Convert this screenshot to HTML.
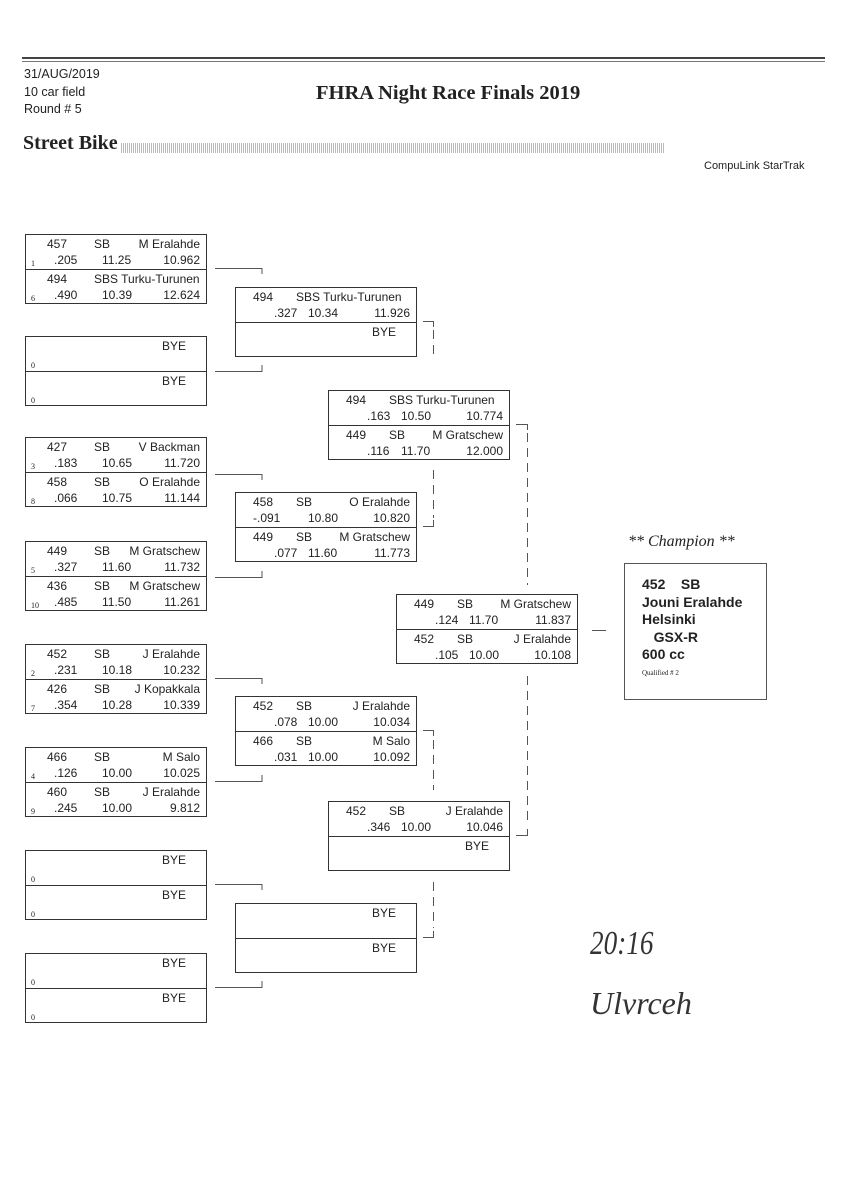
<!DOCTYPE html>
<html><head><meta charset="utf-8"><style>
body{margin:0;background:#fff}
#p{position:relative;width:848px;height:1200px;overflow:hidden;background:#fff;font-family:"Liberation Sans",sans-serif;color:#222}
.t{position:absolute;white-space:nowrap}
.b{position:absolute;width:180px;height:68px;border:1px solid #333;box-sizing:content-box}
.r{position:relative;height:34px}
.r+.r{border-top:1px solid #333;height:33px}
.r span{position:absolute;font-size:12px;line-height:14px;white-space:nowrap}
.l1{top:2px}.l2{top:18px}
.n{left:21px}.c{left:68px}.m{right:6px}.s{left:5px;font-family:"Liberation Serif",serif;font-size:8px!important;top:22px}
.rt{left:28px}.et{left:76px}.sp{right:6px}
.w .n{left:17px}.w .c{left:60px}.w .rt{left:38px}.w .et{left:72px}
.bye{right:20px;top:2px}
</style></head><body><div id="p">
<div style="position:absolute;left:22px;top:57px;width:803px;height:2px;background:#444"></div>
<div style="position:absolute;left:22px;top:61px;width:803px;height:1px;background:#777"></div>
<div class="t" style="left:24px;top:67px;font-size:12.5px">31/AUG/2019</div>
<div class="t" style="left:24px;top:85px;font-size:12.5px">10 car field</div>
<div class="t" style="left:24px;top:102px;font-size:12.5px">Round # 5</div>
<div class="t" style="left:316px;top:82px;font-size:20.5px;font-weight:bold;font-family:'Liberation Serif',serif">FHRA Night Race Finals 2019</div>
<div class="t" style="left:23px;top:132px;font-size:20px;font-weight:bold;font-family:'Liberation Serif',serif">Street Bike</div>
<div style="position:absolute;left:121px;top:143px;width:544px;height:10px;background:repeating-linear-gradient(90deg,#bbb 0 1px,#fff 1px 2px)"></div>
<div class="t" style="left:704px;top:160px;font-size:11px">CompuLink StarTrak</div>

<!-- Round 1 -->
<div class="b" style="left:25px;top:234px"><div class="r"><span class="l1 n">457</span><span class="l1 c">SB</span><span class="l1 m">M Eralahde</span><span class="s">1</span><span class="l2 rt">.205</span><span class="l2 et">11.25</span><span class="l2 sp">10.962</span></div><div class="r"><span class="l1 n">494</span><span class="l1 c">SBS Turku-Turunen</span><span class="s">6</span><span class="l2 rt">.490</span><span class="l2 et">10.39</span><span class="l2 sp">12.624</span></div></div>
<div class="b" style="left:25px;top:336px"><div class="r"><span class="bye">BYE</span><span class="s">0</span></div><div class="r"><span class="bye">BYE</span><span class="s">0</span></div></div>
<div class="b" style="left:25px;top:437px"><div class="r"><span class="l1 n">427</span><span class="l1 c">SB</span><span class="l1 m">V Backman</span><span class="s">3</span><span class="l2 rt">.183</span><span class="l2 et">10.65</span><span class="l2 sp">11.720</span></div><div class="r"><span class="l1 n">458</span><span class="l1 c">SB</span><span class="l1 m">O Eralahde</span><span class="s">8</span><span class="l2 rt">.066</span><span class="l2 et">10.75</span><span class="l2 sp">11.144</span></div></div>
<div class="b" style="left:25px;top:541px"><div class="r"><span class="l1 n">449</span><span class="l1 c">SB</span><span class="l1 m">M Gratschew</span><span class="s">5</span><span class="l2 rt">.327</span><span class="l2 et">11.60</span><span class="l2 sp">11.732</span></div><div class="r"><span class="l1 n">436</span><span class="l1 c">SB</span><span class="l1 m">M Gratschew</span><span class="s">10</span><span class="l2 rt">.485</span><span class="l2 et">11.50</span><span class="l2 sp">11.261</span></div></div>
<div class="b" style="left:25px;top:644px"><div class="r"><span class="l1 n">452</span><span class="l1 c">SB</span><span class="l1 m">J Eralahde</span><span class="s">2</span><span class="l2 rt">.231</span><span class="l2 et">10.18</span><span class="l2 sp">10.232</span></div><div class="r"><span class="l1 n">426</span><span class="l1 c">SB</span><span class="l1 m">J Kopakkala</span><span class="s">7</span><span class="l2 rt">.354</span><span class="l2 et">10.28</span><span class="l2 sp">10.339</span></div></div>
<div class="b" style="left:25px;top:747px"><div class="r"><span class="l1 n">466</span><span class="l1 c">SB</span><span class="l1 m">M Salo</span><span class="s">4</span><span class="l2 rt">.126</span><span class="l2 et">10.00</span><span class="l2 sp">10.025</span></div><div class="r"><span class="l1 n">460</span><span class="l1 c">SB</span><span class="l1 m">J Eralahde</span><span class="s">9</span><span class="l2 rt">.245</span><span class="l2 et">10.00</span><span class="l2 sp">9.812</span></div></div>
<div class="b" style="left:25px;top:850px"><div class="r"><span class="bye">BYE</span><span class="s">0</span></div><div class="r"><span class="bye">BYE</span><span class="s">0</span></div></div>
<div class="b" style="left:25px;top:953px"><div class="r"><span class="bye">BYE</span><span class="s">0</span></div><div class="r"><span class="bye">BYE</span><span class="s">0</span></div></div>

<!-- Round 2 -->
<div class="b w" style="left:235px;top:287px"><div class="r"><span class="l1 n">494</span><span class="l1 c">SBS Turku-Turunen</span><span class="l2 rt">.327</span><span class="l2 et">10.34</span><span class="l2 sp">11.926</span></div><div class="r"><span class="bye">BYE</span></div></div>
<div class="b w" style="left:235px;top:492px"><div class="r"><span class="l1 n">458</span><span class="l1 c">SB</span><span class="l1 m">O Eralahde</span><span class="l2 rt" style="left:17px">-.091</span><span class="l2 et">10.80</span><span class="l2 sp">10.820</span></div><div class="r"><span class="l1 n">449</span><span class="l1 c">SB</span><span class="l1 m">M Gratschew</span><span class="l2 rt">.077</span><span class="l2 et">11.60</span><span class="l2 sp">11.773</span></div></div>
<div class="b w" style="left:235px;top:696px"><div class="r"><span class="l1 n">452</span><span class="l1 c">SB</span><span class="l1 m">J Eralahde</span><span class="l2 rt">.078</span><span class="l2 et">10.00</span><span class="l2 sp">10.034</span></div><div class="r"><span class="l1 n">466</span><span class="l1 c">SB</span><span class="l1 m">M Salo</span><span class="l2 rt">.031</span><span class="l2 et">10.00</span><span class="l2 sp">10.092</span></div></div>
<div class="b w" style="left:235px;top:903px"><div class="r"><span class="bye">BYE</span></div><div class="r"><span class="bye">BYE</span></div></div>

<!-- Round 3 -->
<div class="b w" style="left:328px;top:390px"><div class="r"><span class="l1 n">494</span><span class="l1 c">SBS Turku-Turunen</span><span class="l2 rt">.163</span><span class="l2 et">10.50</span><span class="l2 sp">10.774</span></div><div class="r"><span class="l1 n">449</span><span class="l1 c">SB</span><span class="l1 m">M Gratschew</span><span class="l2 rt">.116</span><span class="l2 et">11.70</span><span class="l2 sp">12.000</span></div></div>
<div class="b w" style="left:328px;top:801px"><div class="r"><span class="l1 n">452</span><span class="l1 c">SB</span><span class="l1 m">J Eralahde</span><span class="l2 rt">.346</span><span class="l2 et">10.00</span><span class="l2 sp">10.046</span></div><div class="r"><span class="bye">BYE</span></div></div>

<!-- Round 4 -->
<div class="b w" style="left:396px;top:594px"><div class="r"><span class="l1 n">449</span><span class="l1 c">SB</span><span class="l1 m">M Gratschew</span><span class="l2 rt">.124</span><span class="l2 et">11.70</span><span class="l2 sp">11.837</span></div><div class="r"><span class="l1 n">452</span><span class="l1 c">SB</span><span class="l1 m">J Eralahde</span><span class="l2 rt">.105</span><span class="l2 et">10.00</span><span class="l2 sp">10.108</span></div></div>

<svg style="position:absolute;left:0;top:0" width="848" height="1200">
<g stroke="#555" stroke-width="1" fill="none">
<path d="M215 268.5H262V274M215 371.5H262V365"/>
<path d="M215 474.5H262V480M215 577.5H262V571"/>
<path d="M215 678.5H262V684M215 781.5H262V775"/>
<path d="M215 884.5H262V890M215 987.5H262V981"/>
<path d="M423 321.5H433.5V327M423 526.5H433.5V520"/>
<path d="M423 730.5H433.5V736M423 937.5H433.5V931"/>
<path d="M516 424.5H527.5V430M516 835.5H527.5V829"/>
<path d="M592 630.5H606"/>
</g>
<g stroke="#555" stroke-width="1" stroke-dasharray="9 6">
<path d="M433.5 330V360M433.5 470V518M433.5 740V790M433.5 882V928M527.5 433V585M527.5 676V826"/>
</g>
</svg>

<div class="t" style="left:628px;top:533px;font-size:16px;font-style:italic;font-family:'Liberation Serif',serif">** Champion **</div>
<div style="position:absolute;left:624px;top:563px;width:141px;height:135px;border:1px solid #555"></div>
<div class="t" style="left:642px;top:576px;font-size:14px;line-height:17.5px;font-weight:bold">452&nbsp;&nbsp;&nbsp;&nbsp;SB<br>Jouni Eralahde<br>Helsinki<br>&nbsp;&nbsp;&nbsp;GSX-R<br>600 cc</div>
<div class="t" style="left:642px;top:669px;font-size:7px;font-family:'Liberation Serif',serif">Qualified # 2</div>

<div class="t" style="left:590px;top:925px;font-size:34px;font-style:italic;font-family:'Liberation Serif',serif;color:#333;transform:scaleX(0.8);transform-origin:left">20:16</div>
<div class="t" style="left:590px;top:985px;font-size:32px;font-style:italic;font-family:'Liberation Serif',serif;color:#333">Ulvrceh</div>
</div></body></html>
